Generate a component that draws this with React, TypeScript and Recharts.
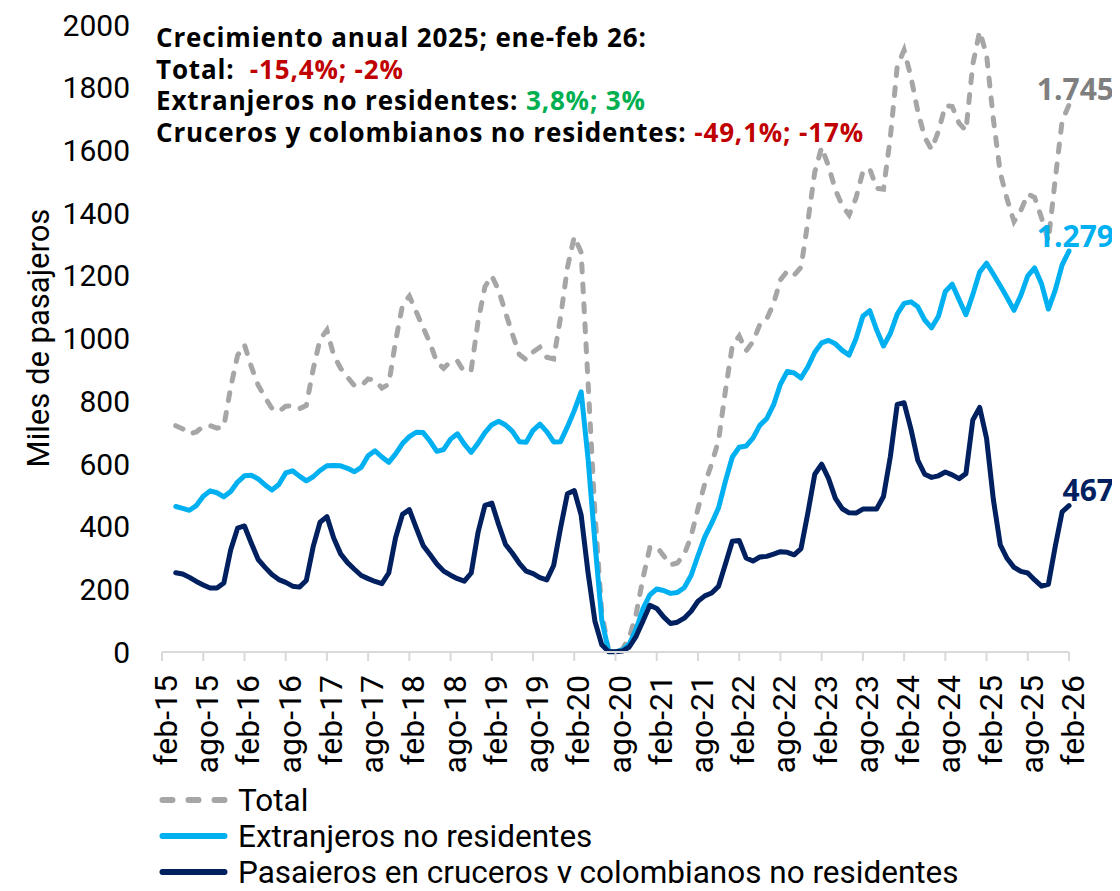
import React from 'react';
import { LineChart, Line, XAxis, YAxis, Legend, LabelList, Customized } from 'recharts';

// Month names (Spanish) used to build the category labels feb-15 ... feb-26
const MONTH_NAMES = ['ene', 'feb', 'mar', 'abr', 'may', 'jun', 'jul', 'ago', 'sep', 'oct', 'nov', 'dic'];
const START_MONTH = 1; // feb
const START_YEAR = 15;
const N_MONTHS = 133;
const CATEGORIES: string[] = Array.from({ length: N_MONTHS }, (_, k) => {
  const mi = (START_MONTH + k) % 12;
  const yr = START_YEAR + Math.floor((START_MONTH + k) / 12);
  return `${MONTH_NAMES[mi]}-${yr}`;
});

// Total (miles de pasajeros)
const TOTAL: (number | null)[] = [
  null, null,
  722, 712, 695, 702, 720, 722, 714, 719, 845, 946,
  980, 910, 851, 812, 777, 767, 784, 786, 776, 786,
  902, 997, 1027, 946, 905, 876, 850, 849, 871, 867,
  842, 854, 992, 1106, 1135, 1085, 1035, 986, 924, 905,
  927, 928, 893, 900, 1055, 1165, 1200, 1153, 1082, 1014,
  949, 932, 957, 972, 940, 935, 1067, 1226, 1325, 1275,
  863, 446, 127, 4, 2, 9, 46, 121, 236, 333,
  336, 307, 278, 284, 311, 369, 457, 537, 601, 675,
  834, 977, 1008, 960, 990, 1044, 1062, 1111, 1187, 1215,
  1202, 1227, 1373, 1531, 1610, 1550, 1474, 1424, 1394, 1448,
  1532, 1542, 1479, 1476, 1641, 1868, 1920, 1834, 1724, 1642,
  1603, 1661, 1743, 1740, 1687, 1663, 1875, 1980, 1905, 1698,
  1528, 1444, 1373, 1409, 1461, 1450, 1385, 1311, 1509, 1694,
  1745,
];

// Extranjeros no residentes
const EXTRANJEROS: (number | null)[] = [
  null, null,
  464, 458, 452, 467, 497, 514, 508, 495, 512, 542,
  562, 564, 552, 533, 517, 534, 571, 578, 561, 546,
  559, 579, 594, 595, 594, 586, 575, 589, 626, 642,
  622, 605, 632, 665, 687, 701, 700, 673, 640, 646,
  679, 696, 663, 637, 666, 700, 725, 736, 724, 704,
  671, 669, 707, 727, 703, 670, 671, 718, 770, 830,
  618, 350, 102, 2, 1, 6, 25, 72, 138, 182,
  201, 196, 187, 190, 205, 244, 307, 367, 411, 460,
  545, 622, 653, 657, 682, 723, 744, 788, 854, 895,
  890, 874, 910, 956, 986, 994, 983, 962, 947, 999,
  1071, 1089, 1028, 976, 1016, 1078, 1112, 1117, 1101, 1059,
  1034, 1071, 1150, 1173, 1124, 1076, 1140, 1212, 1240, 1205,
  1168, 1130, 1090, 1138, 1200, 1225, 1175, 1094, 1154, 1235,
  1279,
];

// Pasajeros en cruceros y colombianos no residentes
const CRUCEROS: (number | null)[] = [
  null, null,
  253, 249, 238, 225, 214, 204, 204, 220, 326, 395,
  402, 347, 295, 270, 247, 231, 222, 210, 207, 228,
  336, 414, 432, 363, 313, 285, 264, 244, 234, 225,
  218, 252, 365, 439, 454, 396, 340, 311, 281, 258,
  245, 234, 226, 252, 382, 468, 475, 406, 343, 315,
  283, 258, 250, 237, 230, 276, 395, 505, 515, 437,
  254, 99, 23, 1, 1, 3, 16, 50, 99, 149,
  139, 112, 91, 95, 108, 130, 162, 179, 188, 210,
  281, 353, 356, 300, 290, 303, 305, 312, 320, 318,
  310, 330, 444, 567, 599, 554, 490, 457, 444, 443,
  456, 456, 456, 496, 623, 790, 795, 711, 611, 567,
  557, 562, 574, 565, 553, 569, 740, 780, 682, 485,
  342, 298, 270, 257, 252, 230, 210, 216, 337, 447,
  467,
];

const Y_TICKS = [0, 200, 400, 600, 800, 1000, 1200, 1400, 1600, 1800, 2000];

const END_LABELS = { total: '1.745', extranjeros: '1.279', cruceros: '467' };

const C_GRAY = '#A6A6A6';
const C_LIGHT = '#00B0F0';
const C_NAVY = '#002060';
const C_RED = '#C00000';
const C_GREEN = '#00B050';
const C_AXIS = '#D9D9D9';

const SERIES = [
  { key: 'total', name: 'Total', color: C_GRAY, legendDash: '10 16' },
  { key: 'extranjeros', name: 'Extranjeros no residentes', color: C_LIGHT, legendDash: undefined },
  { key: 'cruceros', name: 'Pasajeros en cruceros y colombianos no residentes', color: C_NAVY, legendDash: undefined },
];

const DATA = CATEGORIES.map((label, k) => ({
  label,
  total: TOTAL[k],
  extranjeros: EXTRANJEROS[k],
  cruceros: CRUCEROS[k],
}));

const LAST = N_MONTHS - 1;

const XTick = (props: any) => {
  const { x, y, payload } = props;
  return (
    <text
      x={x}
      y={y}
      dy={4}
      transform={`rotate(-90 ${x} ${y})`}
      textAnchor="end"
      dominantBaseline="central"
      fontFamily="Roboto, sans-serif"
      fontSize={32}
      fill="#000"
    >
      {payload.value}
    </text>
  );
};

const makeEndLabel = (text: string, color: string) => (props: any) => {
  const { x, y, index } = props;
  if (index !== LAST || x == null || y == null) return null;
  return (
    <text
      x={Number(x) + 45}
      y={Number(y) - 4.5}
      textAnchor="end"
      fontFamily="'Open Sans', sans-serif"
      fontWeight={700}
      fontSize={30}
      fill={color}
    >
      {text}
    </text>
  );
};

const Annotation = () => (
  <g fontFamily="'Open Sans', sans-serif" fontWeight={700} fontSize={26} letterSpacing={0.85} fill="#000">
    <text x={156} y={47}>Crecimiento anual 2025; ene-feb 26:</text>
    <text x={156} y={78.5} style={{ whiteSpace: 'pre' }}>
      <tspan fill="#000">{'Total:  '}</tspan>
      <tspan fill={C_RED}>-15,4%; -2%</tspan>
    </text>
    <text x={156} y={110} style={{ whiteSpace: 'pre' }}>
      <tspan fill="#000">{'Extranjeros no residentes: '}</tspan>
      <tspan fill={C_GREEN}>3,8%; 3%</tspan>
    </text>
    <text x={156} y={141.5} style={{ whiteSpace: 'pre' }}>
      <tspan fill="#000">{'Cruceros y colombianos no residentes: '}</tspan>
      <tspan fill={C_RED}>-49,1%; -17%</tspan>
    </text>
  </g>
);

const LegendContent = () => (
  <svg width={900} height={111} style={{ display: 'block', overflow: 'visible' }}>
    {SERIES.map((s, k) => {
      const cy = 20 + k * 36;
      return (
        <g key={s.key}>
          <line
            x1={12.5}
            x2={74.5}
            y1={cy}
            y2={cy}
            stroke={s.color}
            strokeWidth={6}
            strokeLinecap="round"
            strokeDasharray={s.legendDash}
          />
          <text
            x={88}
            y={cy}
            dominantBaseline="central"
            fontFamily="Roboto, sans-serif"
            fontSize={31.5}
            fill="#000"
          >
            {s.name}
          </text>
        </g>
      );
    })}
  </svg>
);

const YLabel = () => (
  <text
    x={38}
    y={338}
    transform="rotate(-90 38 338)"
    textAnchor="middle"
    dominantBaseline="central"
    fontFamily="Roboto, sans-serif"
    fontSize={31}
    fill="#000"
  >
    Miles de pasajeros
  </text>
);

export default function App() {
  return (
    <div style={{ marginLeft: -8, marginTop: -8, marginBottom: -8, width: 1120, height: 891, background: '#fff', overflow: 'hidden' }}>
      <LineChart
        width={1120}
        height={891}
        data={DATA}
        margin={{ top: 25, right: 51, bottom: 0, left: 0 }}
      >
        <XAxis
          dataKey="label"
          interval={5}
          height={239}
          tick={<XTick />}
          tickSize={9}
          tickMargin={14}
          axisLine={{ stroke: C_AXIS, strokeWidth: 2 }}
          tickLine={{ stroke: C_AXIS, strokeWidth: 2 }}
        />
        <YAxis
          width={162}
          domain={[0, 2000]}
          ticks={Y_TICKS}
          interval={0}
          axisLine={false}
          tickLine={false}
          tickSize={0}
          tickMargin={32}
          tick={{ fontFamily: 'Roboto, sans-serif', fontSize: 30, fill: '#000' }}
          label={() => <YLabel />}
        />
        <Legend
          layout="vertical"
          align="center"
          verticalAlign="middle"
          wrapperStyle={{ top: 780, left: 150, width: 900, height: 111 }}
          content={() => <LegendContent />}
        />
        <Customized component={Annotation} />
        <Line
          type="linear"
          dataKey="total"
          name="Total"
          stroke={C_GRAY}
          strokeWidth={5}
          strokeDasharray="8 12"
          strokeLinecap="round"
          dot={false}
          activeDot={false}
          isAnimationActive={false}
        >
          <LabelList dataKey="total" content={makeEndLabel(END_LABELS.total, '#7F7F7F')} />
        </Line>
        <Line
          type="linear"
          dataKey="extranjeros"
          name="Extranjeros no residentes"
          stroke={C_LIGHT}
          strokeWidth={5}
          strokeLinecap="round"
          strokeLinejoin="round"
          dot={false}
          activeDot={false}
          isAnimationActive={false}
        >
          <LabelList dataKey="extranjeros" content={makeEndLabel(END_LABELS.extranjeros, C_LIGHT)} />
        </Line>
        <Line
          type="linear"
          dataKey="cruceros"
          name="Pasajeros en cruceros y colombianos no residentes"
          stroke={C_NAVY}
          strokeWidth={5}
          strokeLinecap="round"
          strokeLinejoin="round"
          dot={false}
          activeDot={false}
          isAnimationActive={false}
        >
          <LabelList dataKey="cruceros" content={makeEndLabel(END_LABELS.cruceros, C_NAVY)} />
        </Line>
      </LineChart>
    </div>
  );
}
